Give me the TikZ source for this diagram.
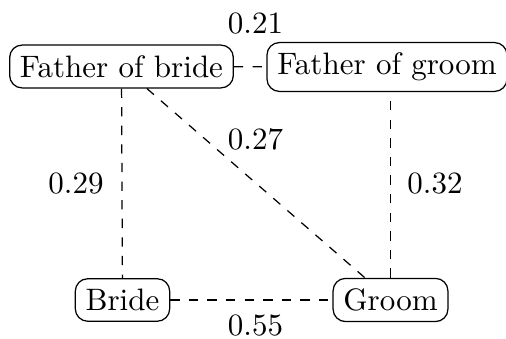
\documentclass[tikz,border=0pt]{standalone}
\begin{document}
\begin{tikzpicture}[x=0.3226pt, y=-0.3226pt,
  person/.style={draw, rounded corners=4pt, inner sep=3.33pt},
  tie/.style={dashed},
  weight/.style={inner sep=0pt}]
  \useasboundingbox (0,0) rectangle (506,339);

  % people
  \node[person] (fob) at (121.5,66.5) {Father of bride};
  \node[person] (fog) at (387,67) {Father of groom};
  \node[person] (bride) at (122.5,300) {Bride};
  \node[person] (groom) at (390.5,300) {Groom};

  % ties between them
  \draw[tie] (fob) -- (fog);
  \draw[tie] (fob) -- (bride);
  \draw[tie] (fob) -- (groom);
  \draw[tie] (groom.north) -- (groom.north |- fog.south);
  \draw[tie] (bride) -- (groom);

  % tie weights
  \node[weight] (w1) at (255.5,24) {0.21};
  \node[weight] (w2) at (76,184) {0.29};
  \node[weight] (w3) at (255.5,139) {0.27};
  \node[weight] (w4) at (435,184) {0.32};
  \node[weight] (w5) at (255.5,326) {0.55};
\end{tikzpicture}
\end{document}
